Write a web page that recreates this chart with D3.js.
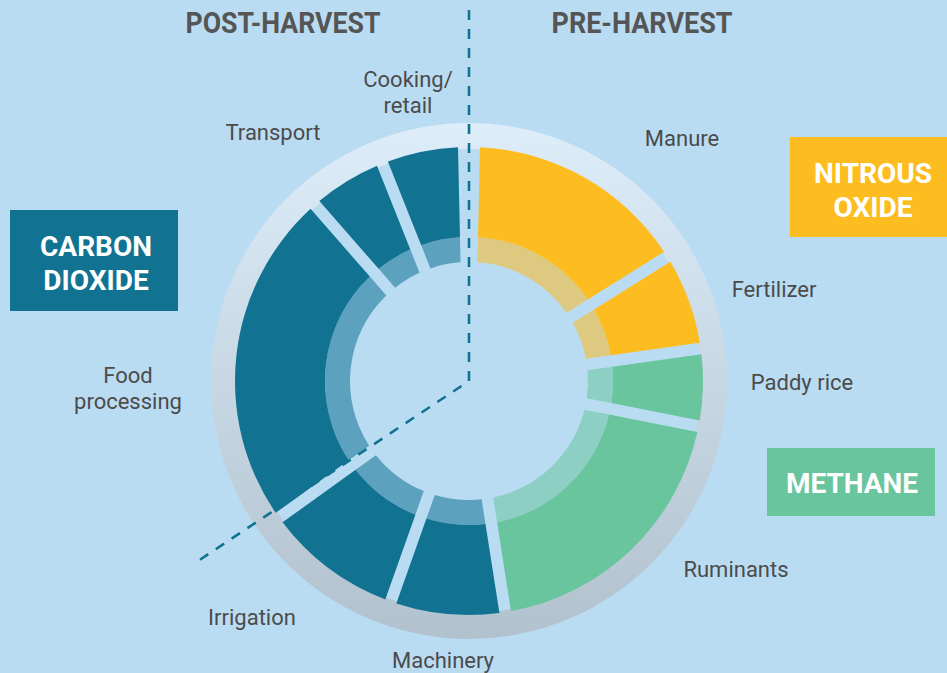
<!DOCTYPE html>
<html>
<head>
<meta charset="utf-8">
<script src="https://cdn.jsdelivr.net/npm/d3@7"></script>
<style>
  body { margin: 0; background: #badcf3; }
  svg { display: block; }
</style>
</head>
<body>
<svg id="chart"></svg>
<script>
// emission sources, clockwise from 12 o'clock
const sources = ["Manure", "Fertilizer", "Paddy rice", "Ruminants", "Machinery",
                 "Irrigation", "Food processing", "Transport", "Cooking/retail"];
const sourceLines = [["Manure"], ["Fertilizer"], ["Paddy rice"], ["Ruminants"], ["Machinery"],
                     ["Irrigation"], ["Food", "processing"], ["Transport"], ["Cooking/", "retail"]];
// share of food system emissions (%)
const shares = [16.2, 6.4, 4.9, 20.2, 7.7, 9.6, 24.6, 5.0, 5.3];
const gases = ["n2o", "n2o", "ch4", "ch4", "co2", "co2", "co2", "co2", "co2"];

const gasKeys = ["co2", "n2o", "ch4"];
const gasLines = [["CARBON", "DIOXIDE"], ["NITROUS", "OXIDE"], ["METHANE"]];
const stages = ["POST-HARVEST", "PRE-HARVEST"];

const width = 947;
const height = 673;
const cx = 469, cy = 381;

const darkColor = d3.scaleOrdinal().domain(gasKeys).range(["#117391", "#fdbd21", "#69c59d"]);
const lightColor = d3.scaleOrdinal().domain(gasKeys).range(["#5ca2bf", "#ddca80", "#8dcfc3"]);

// hand placed label anchors (x centre, first baseline)
const labelPos = [[682, 146], [774, 297], [802, 390], [736, 577], [443, 668],
                  [252, 625], [128, 383], [273, 140], [408, 87]];
const boxes = [
  { x: 10, y: 210, w: 168, h: 101, tx: 96, ty: 256 },
  { x: 790, y: 137, w: 157, h: 100, tx: 873, ty: 183 },
  { x: 767, y: 448, w: 168, h: 68, tx: 852, ty: 493 }
];
const stagePos = [[283, 33, 195], [642, 33, 181]];

const svg = d3.select("#chart")
  .attr("width", width)
  .attr("height", height)
  .style("font-family", "Roboto, 'Open Sans', sans-serif");

svg.append("rect")
  .attr("width", width)
  .attr("height", height)
  .attr("fill", "#badcf3");

const defs = svg.append("defs");
const grad = defs.append("linearGradient")
  .attr("id", "ring-grad")
  .attr("x1", 0).attr("y1", 0).attr("x2", 0).attr("y2", 1);
grad.append("stop").attr("offset", "0%").attr("stop-color", "#ddedf9");
grad.append("stop").attr("offset", "100%").attr("stop-color", "#b1c1ce");

const g = svg.append("g")
  .attr("transform", "translate(" + cx + "," + cy + ")");

// grey outer ring
g.append("path")
  .attr("d", d3.arc().innerRadius(232).outerRadius(258).startAngle(0).endAngle(2 * Math.PI)())
  .attr("fill", "url(#ring-grad)");

const data = sources.map((s, i) => ({ source: s, share: shares[i], gas: gases[i], lines: sourceLines[i], pos: labelPos[i] }));

const topGap = 0.022;
const pie = d3.pie()
  .sort(null)
  .value(d => d.share)
  .startAngle(topGap)
  .endAngle(2 * Math.PI - topGap)
  .padAngle(0.05);

const arcs = pie(data);

const outerArc = d3.arc().innerRadius(144).outerRadius(234).padRadius(234);
const innerArc = d3.arc().innerRadius(119).outerRadius(144).padRadius(234);

g.selectAll("path.inner")
  .data(arcs)
  .join("path")
  .attr("class", "inner")
  .attr("d", innerArc)
  .attr("fill", d => lightColor(d.data.gas));

g.selectAll("path.outer")
  .data(arcs)
  .join("path")
  .attr("class", "outer")
  .attr("d", outerArc)
  .attr("fill", d => darkColor(d.data.gas));

// dashed divider between post- and pre-harvest
const diagEnd = d3.pointRadial(4.126, 327);
g.append("path")
  .attr("d", d3.line()([[0, 10 - cy], [0, 0], diagEnd]))
  .attr("fill", "none")
  .attr("stroke", "#117391")
  .attr("stroke-width", 2.6)
  .attr("stroke-dasharray", "10,9");

// slice labels
const labels = svg.append("g")
  .attr("fill", "#4b4b4b")
  .attr("font-size", 22)
  .attr("text-anchor", "middle");

labels.selectAll("text")
  .data(data)
  .join("text")
  .attr("x", d => d.pos[0])
  .attr("y", d => d.pos[1])
  .selectAll("tspan")
  .data(d => d.lines.map(l => ({ text: l, x: d.pos[0] })))
  .join("tspan")
  .attr("x", d => d.x)
  .attr("dy", (d, i) => i ? 26 : 0)
  .text(d => d.text);

// stage headings
svg.selectAll("text.stage")
  .data(stages)
  .join("text")
  .attr("class", "stage")
  .attr("x", (d, i) => stagePos[i][0])
  .attr("y", (d, i) => stagePos[i][1])
  .attr("textLength", (d, i) => stagePos[i][2])
  .attr("lengthAdjust", "spacingAndGlyphs")
  .attr("text-anchor", "middle")
  .attr("font-size", 30)
  .attr("font-weight", 700)
  .attr("fill", "#555555")
  .text(d => d);

// gas boxes
const legend = svg.selectAll("g.gas")
  .data(gasKeys)
  .join("g")
  .attr("class", "gas");

legend.append("rect")
  .attr("x", (d, i) => boxes[i].x)
  .attr("y", (d, i) => boxes[i].y)
  .attr("width", (d, i) => boxes[i].w)
  .attr("height", (d, i) => boxes[i].h)
  .attr("fill", d => darkColor(d));

legend.append("text")
  .attr("text-anchor", "middle")
  .attr("font-size", 28)
  .attr("font-weight", 700)
  .attr("fill", "#ffffff")
  .selectAll("tspan")
  .data((d, i) => gasLines[i].map(l => ({ text: l, b: boxes[i] })))
  .join("tspan")
  .attr("x", d => d.b.tx)
  .attr("y", (d, i) => d.b.ty + i * 34)
  .text(d => d.text);
</script>
</body>
</html>
